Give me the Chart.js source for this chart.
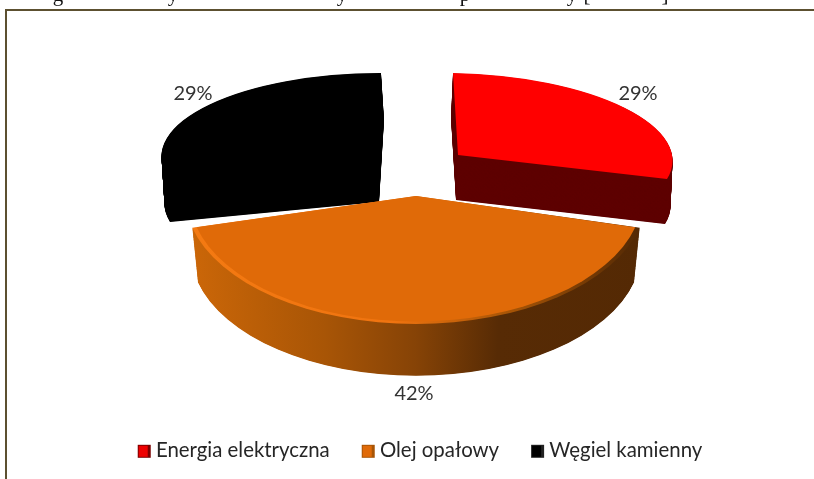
<!DOCTYPE html>
<html lang="pl">
<head>
<meta charset="utf-8">
<title>Wykres</title>
<script src="https://cdn.jsdelivr.net/npm/chart.js@4/dist/chart.umd.min.js"></script>
<style>
    html, body { margin: 0; padding: 0; background: #fff; overflow: hidden; }
    #frame {
        position: absolute; left: 5px; top: 9px; width: 809px; height: 470px;
        border-left: 2px solid #5c5030; border-top: 2px solid #5c5030;
        box-sizing: border-box;
    }
    #chart { position: absolute; left: 0; top: 0; filter: blur(0.4px); }
</style>
</head>
<body>
<div id="frame"></div>
<canvas id="chart" width="814" height="479"></canvas>
<script>
const categories = ['Energia elektryczna', 'Olej opałowy', 'Węgiel kamienny'];
const shares = [29, 42, 29];
const topColors = ['#ff0000', '#e06a08', '#000000'];
const legendColors = ['#ee0000', '#e06a08', '#000000'];
const legendEdges = ['#7a0000', '#a85506', '#222222'];

// dolna czesc ucietego tytulu nad ramka
const cutTitleChars = ['g', 'y', 'y', 'p', 'y', '[', ']'];
const cutTitleX = [58, 173, 342, 465, 572, 587, 665];

// rzut 3D: kazdy wycinek ma wlasny srodek i osie elipsy (px), bo wykres jest rozsuniety
const projection = [
    { cx: 458, cy: 155, ax: 214.5, ay: 3.7, bx: 5, by: 82, dx: -2, dy: 45, shrink: 0 },
    { cx: 416, cy: 196, ax: 231, ay: 0, bx: 0, by: 128, dx: 0, dy: 55, shrink: 0.025 },
    { cx: 376, cy: 155, ax: 214.5, ay: 0.4, bx: -5, by: 82, dx: 3, dy: 47, shrink: 0 }
];
const drawOrder = [2, 0, 1];

const labelBoxes = [
    { x: 638, y: 94 },
    { x: 414, y: 394 },
    { x: 193, y: 94 }
];

function place(ctx, arc, p, offX, offY, scale) {
    const r = arc.outerRadius;
    ctx.translate(p.cx + offX, p.cy + offY);
    ctx.transform(p.ax / r * scale, p.ay / r * scale, p.bx / r * scale, p.by / r * scale, 0, 0);
    ctx.translate(-arc.x, -arc.y);
}

function hGradient(ctx, arc, stops) {
    const g = ctx.createLinearGradient(arc.x - arc.outerRadius, 0, arc.x + arc.outerRadius, 0);
    stops.forEach(s => g.addColorStop(s[0], s[1]));
    return g;
}

function drawLayer(ctx, arc, p, color, offX, offY, scale) {
    const saved = arc.options;
    arc.options = Object.assign({}, saved, { backgroundColor: color, borderWidth: 0 });
    ctx.save();
    place(ctx, arc, p, offX, offY, scale);
    arc.draw(ctx);
    ctx.restore();
    arc.options = saved;
}

const pie3d = {
    id: 'pie3d',
    beforeDatasetsDraw(chart) {
        const ctx = chart.ctx;
        const arcs = chart.getDatasetMeta(0).data;
        drawOrder.forEach(i => {
            const arc = arcs[i];
            const p = projection[i];
            let wall, rim = null;
            if (i === 0) wall = '#5e0000';
            else if (i === 2) wall = '#000000';
            else {
                wall = hGradient(ctx, arc, [[0, '#cc6708'], [0.3, '#a85506'], [0.5, '#864306'], [0.68, '#572b05'], [1, '#542904']]);
                rim = hGradient(ctx, arc, [[0, '#f47a12'], [0.45, '#f07410'], [0.7, '#a85506'], [1, '#4e2604']]);
            }
            // sciana boczna: kolejne warstwy od dolu do gory
            for (let t = 1; t >= 0; t -= 0.01) {
                drawLayer(ctx, arc, p, wall, p.dx * t, p.dy * t, 1 - p.shrink * t);
            }
            if (rim) {
                drawLayer(ctx, arc, p, rim, 0, 0, 1);
                drawLayer(ctx, arc, p, topColors[i], 0, 0, 0.98);
            } else {
                drawLayer(ctx, arc, p, topColors[i], 0, 0, 1);
            }
        });
        return false;
    },
    afterDraw(chart) {
        const ctx = chart.ctx;
        ctx.save();
        ctx.font = '20px Lato, "Open Sans", sans-serif';
        ctx.fillStyle = '#333333';
        ctx.textAlign = 'center';
        ctx.textBaseline = 'middle';
        shares.forEach((v, i) => ctx.fillText(v + '%', labelBoxes[i].x, labelBoxes[i].y));

        // kwadraty legendy
        chart.legend.legendHitBoxes.forEach((box, i) => {
            const y = box.top + box.height / 2 - 6;
            ctx.fillStyle = legendEdges[i];
            ctx.fillRect(box.left, y, 13, 13);
            ctx.fillStyle = legendColors[i];
            ctx.fillRect(box.left + 1, y + 1, 9, 11);
        });

        ctx.font = '21px "Liberation Serif", serif';
        ctx.fillStyle = '#111111';
        ctx.textBaseline = 'alphabetic';
        cutTitleChars.forEach((c, i) => ctx.fillText(c, cutTitleX[i], 1));
        ctx.restore();
    }
};

new Chart(document.getElementById('chart'), {
    type: 'pie',
    data: {
        labels: categories,
        datasets: [{ data: shares, backgroundColor: 'rgba(0,0,0,0)', borderWidth: 0 }]
    },
    options: {
        responsive: false,
        animation: false,
        layout: { padding: { top: 20, bottom: 8, left: 26, right: 0 } },
        plugins: {
            tooltip: { enabled: false },
            legend: {
                position: 'bottom',
                labels: {
                    boxWidth: 8,
                    boxHeight: 8,
                    padding: 32,
                    color: '#262626',
                    font: { family: 'Lato, "Open Sans", sans-serif', size: 20.4 },
                    generateLabels(chart) {
                        return categories.map((c, i) => ({
                            text: c, fillStyle: 'rgba(0,0,0,0)', strokeStyle: 'rgba(0,0,0,0)',
                            lineWidth: 0, index: i, fontColor: '#262626'
                        }));
                    }
                }
            }
        }
    },
    plugins: [pie3d]
});
</script>
</body>
</html>
